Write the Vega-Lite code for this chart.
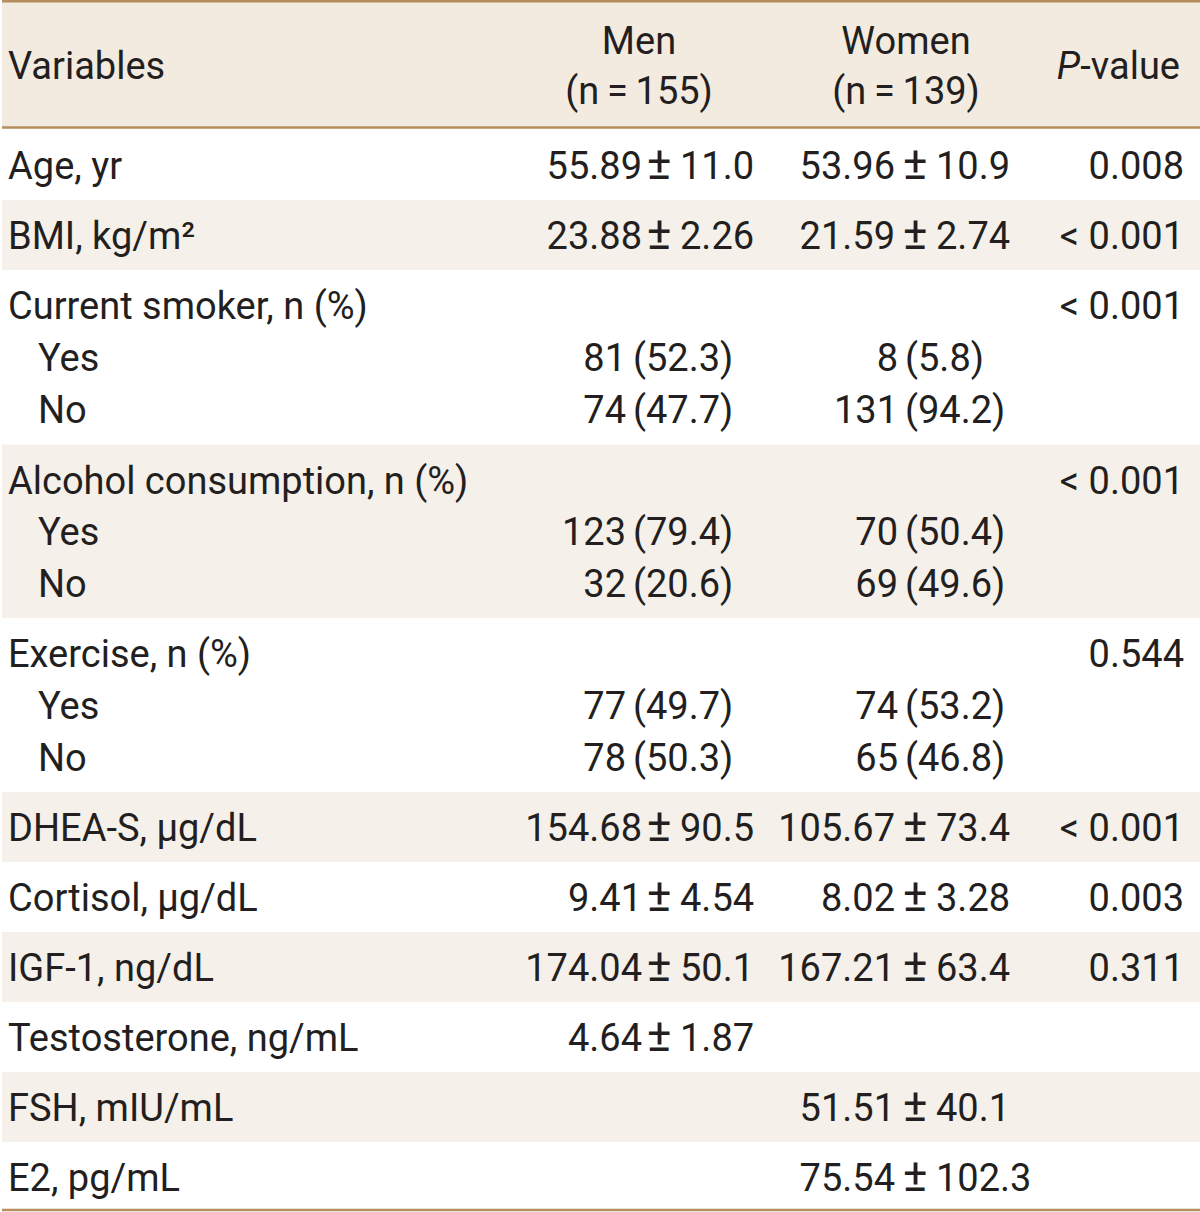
{
  "$schema": "https://vega.github.io/schema/vega-lite/v6.json",
  "width": 1200,
  "height": 1212,
  "autosize": {"type": "fit", "contains": "padding"},
  "padding": 0,
  "background": "white",
  "config": {
    "view": {"stroke": null},
    "text": {"font": "Roboto", "fontSize": 38, "color": "#231f20", "baseline": "alphabetic", "dy": 13.5}
  },
  "datasets": {
    "stripes": [
      {"line": -1, "end": 1.5, "kind": "header"},
      {"line": 2.5, "end": 3.5, "kind": "band"},
      {"line": 6.5, "end": 9.5, "kind": "band"},
      {"line": 12.5, "end": 13.5, "kind": "band"},
      {"line": 14.5, "end": 15.5, "kind": "band"},
      {"line": 16.5, "end": 17.5, "kind": "band"}
    ],
    "rules": [{"line": -1}, {"line": 1.5}, {"line": 19}],
    "header": [
      {"line": 0.5, "group": "variables", "text": "Variables"},
      {"line": 0, "group": "men", "text": "Men"},
      {"line": 1, "group": "men", "text": "(n\u2009=\u2009155)"},
      {"line": 0, "group": "women", "text": "Women"},
      {"line": 1, "group": "women", "text": "(n\u2009=\u2009139)"},
      {"line": 0.5, "group": "pitalic", "text": "P"},
      {"line": 0.5, "group": "prest", "text": "-value"}
    ],
    "rows": [
      {"line": 2, "level": 0, "variable": "Age, yr", "men_mean": "55.89", "men_sd": "11.0", "women_mean": "53.96", "women_sd": "10.9", "p": "0.008"},
      {"line": 3, "level": 0, "variable": "BMI, kg/m\u00b2", "men_mean": "23.88", "men_sd": "2.26", "women_mean": "21.59", "women_sd": "2.74", "p": "< 0.001"},
      {"line": 4, "level": 0, "variable": "Current smoker, n (%)", "p": "< 0.001"},
      {"line": 5, "level": 1, "variable": "Yes", "men_n": "81", "men_pct": "(52.3)", "women_n": "8", "women_pct": "(5.8)"},
      {"line": 6, "level": 1, "variable": "No", "men_n": "74", "men_pct": "(47.7)", "women_n": "131", "women_pct": "(94.2)"},
      {"line": 7, "level": 0, "variable": "Alcohol consumption, n (%)", "p": "< 0.001"},
      {"line": 8, "level": 1, "variable": "Yes", "men_n": "123", "men_pct": "(79.4)", "women_n": "70", "women_pct": "(50.4)"},
      {"line": 9, "level": 1, "variable": "No", "men_n": "32", "men_pct": "(20.6)", "women_n": "69", "women_pct": "(49.6)"},
      {"line": 10, "level": 0, "variable": "Exercise, n (%)", "p": "0.544"},
      {"line": 11, "level": 1, "variable": "Yes", "men_n": "77", "men_pct": "(49.7)", "women_n": "74", "women_pct": "(53.2)"},
      {"line": 12, "level": 1, "variable": "No", "men_n": "78", "men_pct": "(50.3)", "women_n": "65", "women_pct": "(46.8)"},
      {"line": 13, "level": 0, "variable": "DHEA-S, \u00b5g/dL", "men_mean": "154.68", "men_sd": "90.5", "women_mean": "105.67", "women_sd": "73.4", "p": "< 0.001"},
      {"line": 14, "level": 0, "variable": "Cortisol, \u00b5g/dL", "men_mean": "9.41", "men_sd": "4.54", "women_mean": "8.02", "women_sd": "3.28", "p": "0.003"},
      {"line": 15, "level": 0, "variable": "IGF-1, ng/dL", "men_mean": "174.04", "men_sd": "50.1", "women_mean": "167.21", "women_sd": "63.4", "p": "0.311"},
      {"line": 16, "level": 0, "variable": "Testosterone, ng/mL", "men_mean": "4.64", "men_sd": "1.87"},
      {"line": 17, "level": 0, "variable": "FSH, mIU/mL", "women_mean": "51.51", "women_sd": "40.1"},
      {"line": 18, "level": 0, "variable": "E2, pg/mL", "women_mean": "75.54", "women_sd": "102.3"}
    ]
  },
  "encoding": {
    "y": {
      "field": "line", "type": "quantitative", "axis": null,
      "scale": {
        "domain": [-1, 0, 1, 2, 3, 4, 5, 6, 7, 8, 9, 10, 11, 12, 13, 14, 15, 16, 17, 18, 19],
        "range": [1.25, 40, 90, 165, 235, 305, 357, 409, 480, 531, 583, 653, 705, 757, 827, 897, 967, 1037, 1107, 1177, 1210]
      }
    }
  },
  "layer": [
    {
      "data": {"name": "stripes"},
      "mark": {"type": "rect"},
      "encoding": {
        "y2": {"field": "end"},
        "x": {"datum": 0, "type": "quantitative", "axis": null, "scale": {"domain": [0, 1200], "range": [0, 1200]}},
        "x2": {"datum": 1200},
        "color": {"field": "kind", "type": "nominal", "legend": null, "scale": {"domain": ["header", "band"], "range": ["#f3ebe0", "#f5f0ea"]}}
      }
    },
    {
      "data": {"name": "rules"},
      "mark": {"type": "rule", "color": "#b68d5d", "strokeWidth": 2.5},
      "encoding": {
        "x": {"datum": 0, "type": "quantitative", "axis": null, "scale": {"domain": [0, 1200], "range": [0, 1200]}},
        "x2": {"datum": 1200}
      }
    },
    {
      "data": {"name": "header"},
      "transform": [{"filter": "datum.group === 'variables'"}],
      "mark": {"type": "text", "align": "left"},
      "encoding": {"x": {"datum": 6, "type": "quantitative"}, "text": {"field": "text"}}
    },
    {
      "data": {"name": "header"},
      "transform": [{"filter": "datum.group === 'men'"}],
      "mark": {"type": "text", "align": "center"},
      "encoding": {"x": {"datum": 637, "type": "quantitative"}, "text": {"field": "text"}}
    },
    {
      "data": {"name": "header"},
      "transform": [{"filter": "datum.group === 'women'"}],
      "mark": {"type": "text", "align": "center"},
      "encoding": {"x": {"datum": 904, "type": "quantitative"}, "text": {"field": "text"}}
    },
    {
      "data": {"name": "header"},
      "transform": [{"filter": "datum.group === 'pitalic'"}],
      "mark": {"type": "text", "align": "right", "fontStyle": "italic"},
      "encoding": {"x": {"datum": 1078, "type": "quantitative"}, "text": {"field": "text"}}
    },
    {
      "data": {"name": "header"},
      "transform": [{"filter": "datum.group === 'prest'"}],
      "mark": {"type": "text", "align": "right"},
      "encoding": {"x": {"datum": 1178, "type": "quantitative"}, "text": {"field": "text"}}
    },
    {
      "data": {"name": "rows"},
      "transform": [{"filter": "datum.level === 0"}],
      "mark": {"type": "text", "align": "left"},
      "encoding": {"x": {"datum": 6, "type": "quantitative"}, "text": {"field": "variable"}}
    },
    {
      "data": {"name": "rows"},
      "transform": [{"filter": "datum.level === 1"}],
      "mark": {"type": "text", "align": "left"},
      "encoding": {"x": {"datum": 36, "type": "quantitative"}, "text": {"field": "variable"}}
    },
    {
      "data": {"name": "rows"},
      "transform": [{"filter": "isValid(datum.men_mean)"}],
      "mark": {"type": "text", "align": "right"},
      "encoding": {"x": {"datum": 640, "type": "quantitative"}, "text": {"field": "men_mean"}}
    },
    {
      "data": {"name": "rows"},
      "transform": [{"filter": "isValid(datum.men_sd)"}],
      "mark": {"type": "text", "align": "center", "text": "\u00b1", "fontSize": 46, "dy": 14},
      "encoding": {"x": {"datum": 657, "type": "quantitative"}}
    },
    {
      "data": {"name": "rows"},
      "transform": [{"filter": "isValid(datum.men_sd)"}],
      "mark": {"type": "text", "align": "left"},
      "encoding": {"x": {"datum": 678, "type": "quantitative"}, "text": {"field": "men_sd"}}
    },
    {
      "data": {"name": "rows"},
      "transform": [{"filter": "isValid(datum.men_n)"}],
      "mark": {"type": "text", "align": "right"},
      "encoding": {"x": {"datum": 624, "type": "quantitative"}, "text": {"field": "men_n"}}
    },
    {
      "data": {"name": "rows"},
      "transform": [{"filter": "isValid(datum.men_pct)"}],
      "mark": {"type": "text", "align": "left"},
      "encoding": {"x": {"datum": 631, "type": "quantitative"}, "text": {"field": "men_pct"}}
    },
    {
      "data": {"name": "rows"},
      "transform": [{"filter": "isValid(datum.women_mean)"}],
      "mark": {"type": "text", "align": "right"},
      "encoding": {"x": {"datum": 893, "type": "quantitative"}, "text": {"field": "women_mean"}}
    },
    {
      "data": {"name": "rows"},
      "transform": [{"filter": "isValid(datum.women_sd)"}],
      "mark": {"type": "text", "align": "center", "text": "\u00b1", "fontSize": 46, "dy": 14},
      "encoding": {"x": {"datum": 913, "type": "quantitative"}}
    },
    {
      "data": {"name": "rows"},
      "transform": [{"filter": "isValid(datum.women_sd)"}],
      "mark": {"type": "text", "align": "left"},
      "encoding": {"x": {"datum": 934, "type": "quantitative"}, "text": {"field": "women_sd"}}
    },
    {
      "data": {"name": "rows"},
      "transform": [{"filter": "isValid(datum.women_n)"}],
      "mark": {"type": "text", "align": "right"},
      "encoding": {"x": {"datum": 896, "type": "quantitative"}, "text": {"field": "women_n"}}
    },
    {
      "data": {"name": "rows"},
      "transform": [{"filter": "isValid(datum.women_pct)"}],
      "mark": {"type": "text", "align": "left"},
      "encoding": {"x": {"datum": 903, "type": "quantitative"}, "text": {"field": "women_pct"}}
    },
    {
      "data": {"name": "rows"},
      "transform": [{"filter": "isValid(datum.p)"}],
      "mark": {"type": "text", "align": "right"},
      "encoding": {"x": {"datum": 1182, "type": "quantitative"}, "text": {"field": "p"}}
    }
  ]
}
